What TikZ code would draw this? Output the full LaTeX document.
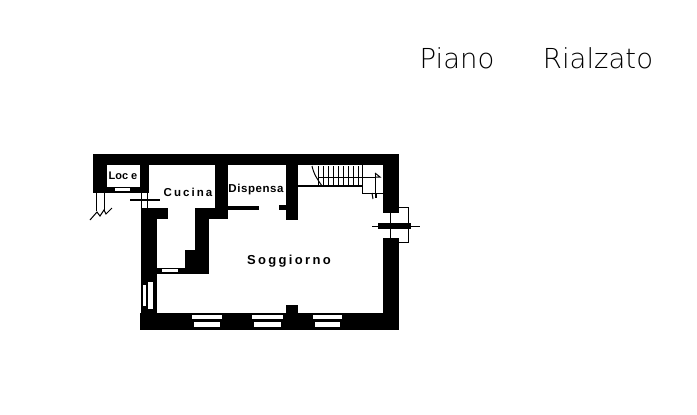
\documentclass[tikz,border=0pt]{standalone}
\usepackage{fontspec}
\setmainfont{Liberation Sans}
\newfontfamily\titlefont{DejaVu Sans ExtraLight}
\begin{document}
\begin{tikzpicture}[x=1pt,y=-1pt]
  \tikzstyle{wall}=[fill=black,draw=black,line width=0.4pt]
  \tikzstyle{glass}=[fill=white,draw=none]
  \tikzstyle{thin}=[draw=black,line width=1pt]
  \tikzstyle{room}=[inner sep=0pt]
  \tikzstyle{title}=[font=\titlefont\fontsize{27.5}{27.5}\selectfont,inner sep=0pt]
  \useasboundingbox (0,0) rectangle (697,415);
  % outer walls
  \fill[wall] (93,154) rectangle (398,164);
  \fill[wall] (93,154) rectangle (106,190);
  \fill[wall] (93,187) rectangle (146,192);
  \fill[wall] (140,164) rectangle (148,192);
  \fill[wall] (383,154) rectangle (398,212);
  \fill[wall] (383,238) rectangle (398,329);
  \fill[wall] (140,313) rectangle (398,329);
  \fill[wall] (141,208) rectangle (156,329);
  \fill[wall] (141,208) rectangle (167,218);
  % inner walls
  \fill[wall] (215,154) rectangle (227,218);
  \fill[wall] (195,208) rectangle (227,218);
  \fill[wall] (195,208) rectangle (208,273);
  \fill[wall] (185,250) rectangle (208,273);
  \fill[wall] (155,268) rectangle (208,273);
  \fill[wall] (286,154) rectangle (297,219);
  \fill[wall] (279,205) rectangle (287,209);
  \fill[wall] (227,206) rectangle (258,209);
  \fill[wall] (286,305) rectangle (297,313);
  % windows
  \fill[glass] (115,187.5) rectangle (130,190.5);
  \fill[glass] (162,269) rectangle (178,272);
  \fill[glass] (143,285) rectangle (146,306);
  \fill[glass] (148,282) rectangle (153,309);
  \foreach \xa/\xb in {192/222,252/283,313/342} {
    \fill[glass] (\xa,315) rectangle (\xb,319);
    \fill[glass] (\xa+2,322) rectangle (\xb-2,327);
  }
  % stairs
  \foreach \xs in {318,323,...,362}
    \draw[thin] (\xs,166) -- (\xs,186);
  \draw[thin] (312,166) .. controls (314,175) and (318,180) .. (322,186);
  \draw[line width=1.6pt] (297,186) -- (362,186);
  \draw[thin] (318,177) -- (375,177);
  \draw[thin] (362,164) -- (362,193) -- (383,193);
  \draw[thin] (375,173) -- (375,193);
  \draw[thin] (375,173) -- (380,177) -- (375,177);
  \draw[thin] (372,193) -- (373,199);
  \draw[line width=1.6pt] (376,194) -- (376,198);
  % entrance doors
  \draw[thin] (398,207) -- (408,207) -- (408,242) -- (398,242);
  \draw[thin] (390,212) -- (390,238);
  \fill[wall] (378,223) rectangle (410,228);
  \draw[thin] (372,226) -- (420,226);
  \draw[thin] (141,192) -- (141,208);
  \draw[thin] (147,192) -- (147,208);
  \draw[line width=1.8pt] (130,200) -- (160,200);
  \draw[thin] (96,192) -- (96,211);
  \draw[thin] (104,192) -- (104,211);
  \draw[thin] (90,220) -- (97,212) -- (100,216) -- (104,210) -- (106,214) -- (112,208);
  % labels
  \node[room] (loc) at (123,176) {\fontsize{11}{11}\selectfont\textbf{Loc e}};
  \node[room] (cucina) at (188,192) {\bfseries\addfontfeature{LetterSpace=18}\fontsize{11.5}{11.5}\selectfont Cucina};
  \node[room] (dispensa) at (256,190) {\bfseries\addfontfeature{LetterSpace=5}\fontsize{11.5}{11.5}\selectfont Dispensa};
  \node[room] (soggiorno) at (289,261) {\bfseries\addfontfeature{LetterSpace=18}\fontsize{13}{13}\selectfont Soggiorno};
  \node[title] (piano) at (457,58) {Piano};
  \node[title] (rialzato) at (598,58) {Rialzato};
\end{tikzpicture}
\end{document}
